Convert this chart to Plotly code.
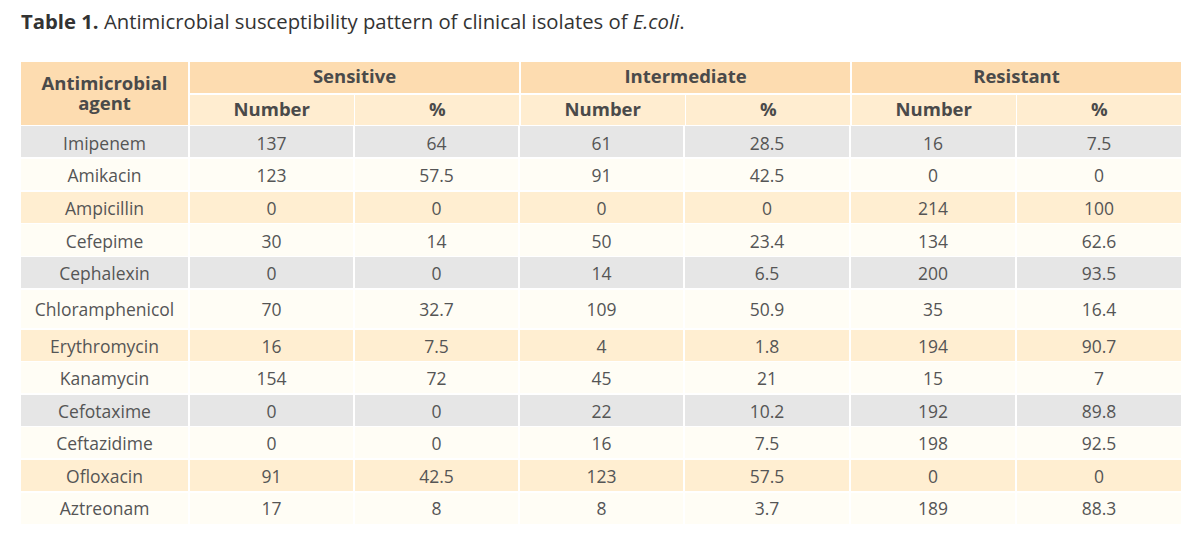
import plotly.graph_objects as go

agents = ["Imipenem", "Amikacin", "Ampicillin", "Cefepime", "Cephalexin", "Chloramphenicol",
          "Erythromycin", "Kanamycin", "Cefotaxime", "Ceftazidime", "Ofloxacin", "Aztreonam"]
sens_n = [137, 123, 0, 30, 0, 70, 16, 154, 0, 0, 91, 17]
sens_pct = [64, 57.5, 0, 14, 0, 32.7, 7.5, 72, 0, 0, 42.5, 8]
inter_n = [61, 91, 0, 50, 14, 109, 4, 45, 22, 16, 123, 8]
inter_pct = [28.5, 42.5, 0, 23.4, 6.5, 50.9, 1.8, 21, 10.2, 7.5, 57.5, 3.7]
res_n = [16, 0, 214, 134, 200, 35, 194, 15, 192, 198, 0, 189]
res_pct = [7.5, 0, 100, 62.6, 93.5, 16.4, 90.7, 7, 89.8, 92.5, 0, 88.3]
agent_header = ["Antimicrobial", "agent"]
groups = ["Sensitive", "Intermediate", "Resistant"]
sub_headers = ["Number", "%"]

# page has an 8px body margin; the figure is sized to fit inside it
OFF = 8
W, H = 1195 - 2 * OFF, 542 - 2 * OFF
GREY, CREAM, PEACH = "#E6E6E6", "#FFFDF5", "#FFEED1"
HEAD1, HEAD2 = "#FDDCB0", "#FFEDD0"
TXT = "#555555"
HTXT = "#4A4A4A"
FONT = "Open Sans"
CLEAR = "rgba(255,255,255,0)"


def px_x(x):
    return (x - OFF) / W


def px_y(y):
    return 1 - (y - OFF) / H


row_colors = [[GREY, CREAM, PEACH, CREAM][i % 4] for i in range(len(agents))]
columns = [agents, sens_n, sens_pct, inter_n, inter_pct, res_n, res_pct]
col_edges = [20, 189, 354, 519, 684, 850, 1016, 1182]
col_widths = [b - a for a, b in zip(col_edges[:-1], col_edges[1:])]

x0, x1, x2 = px_x(20), px_x(189), px_x(1182)
body_font = dict(family=FONT, size=17.5, color=TXT)
head_font = dict(family=FONT, size=18.5, color=HTXT, weight="bold")
line = dict(color="white", width=1.5)
no_line = dict(color=CLEAR, width=1)

fig = go.Figure()

# header block: agent header background, then its two text lines
fig.add_trace(go.Table(
    domain=dict(x=[x0, x1], y=[0, px_y(61)]),
    header=dict(values=[" "], fill_color=HEAD1, line=line, align="center",
                font=head_font, height=65),
    cells=dict(values=[[]]),
))
for txt, top in zip(agent_header, [68.0, 88.5]):
    fig.add_trace(go.Table(
        domain=dict(x=[x0, x1], y=[0, px_y(top)]),
        header=dict(values=[txt], fill_color=CLEAR, line=no_line, align="center",
                    font=head_font, height=20),
        cells=dict(values=[[]]),
    ))
fig.add_trace(go.Table(
    domain=dict(x=[x1, x2], y=[0, px_y(61)]),
    header=dict(values=groups, fill_color=HEAD1, line=line, align="center",
                font=head_font, height=33),
    cells=dict(values=[[], [], []]),
))
fig.add_trace(go.Table(
    domain=dict(x=[x1, x2], y=[0, px_y(94)]),
    header=dict(values=sub_headers * 3, fill_color=HEAD2, line=line, align="center",
                font=head_font, height=32),
    cells=dict(values=[[], [], [], [], [], []]),
))

# body in two segments: each segment's first row is the table header row so that
# the taller Chloramphenicol row can have its own height.
# (first row, last row+1, top px, first-row height, other-row height, text nudge first, text nudge rest)
segments = [(0, 5, 125.5, 32.7, 32.7, 3.0, 3.0), (5, 12, 289.0, 40.0, 32.55, 5.5, 2.5)]


def seg_table(i0, i1, top, h_first, h_rest, with_text, d_first=0.0, d_rest=0.0):
    vals = [[str(c[i]) if with_text else " " for i in range(i0, i1)] for c in columns]
    fills = [row_colors[i] for i in range(i0, i1)]
    return go.Table(
        domain=dict(x=[x0, x2], y=[0, px_y(top + d_first)]),
        columnwidth=col_widths,
        header=dict(values=[[v[0]] for v in vals],
                    fill_color=CLEAR if with_text else fills[0],
                    line=no_line if with_text else line,
                    align="center", font=body_font,
                    height=h_first - d_first + d_rest),
        cells=dict(values=[v[1:] for v in vals],
                   fill_color=CLEAR if with_text else [fills[1:]] * len(columns),
                   line=no_line if with_text else line,
                   align="center", font=body_font, height=h_rest),
    )


for i0, i1, top, hf, hr, df, dr in segments:
    fig.add_trace(seg_table(i0, i1, top, hf, hr, False))
for i0, i1, top, hf, hr, df, dr in segments:
    fig.add_trace(seg_table(i0, i1, top, hf, hr, True, df, dr))

fig.add_annotation(
    text="<b>Table 1.</b> Antimicrobial susceptibility pattern of clinical isolates of <i>E.coli</i>.",
    xref="paper", yref="paper", x=px_x(19), y=px_y(20.5), xanchor="left", yanchor="middle",
    showarrow=False, font=dict(family=FONT, size=20.3, color="#333333"),
)

fig.update_layout(
    width=W, height=H, margin=dict(l=0, r=0, t=0, b=0),
    paper_bgcolor="white",
)

fig.write_html("out.html")
